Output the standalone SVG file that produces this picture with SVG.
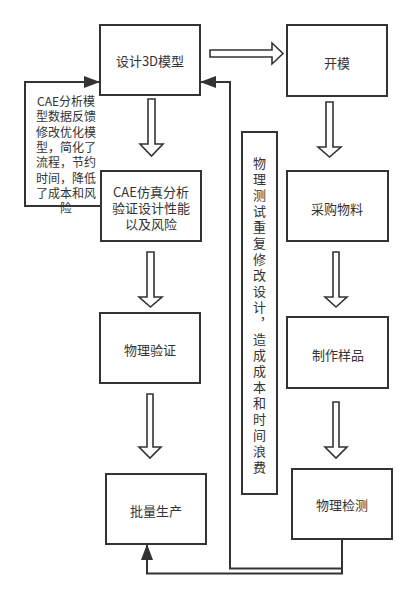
<svg xmlns="http://www.w3.org/2000/svg" width="417" height="599" viewBox="0 0 417 599">
<defs>
<style>
.box{fill:#fff;stroke:#333;stroke-width:2}
.t{font-family:"Noto Sans CJK SC","Liberation Sans",sans-serif;font-size:13px;fill:#333;text-anchor:middle;dominant-baseline:central}
.s{font-size:12px}
.v{font-family:"Noto Sans CJK SC","Liberation Sans",sans-serif;font-size:13px;fill:#333;writing-mode:vertical-rl;letter-spacing:3px}
.ha{fill:#fff;stroke:#333;stroke-width:1.6;stroke-linejoin:miter}
.ln{fill:none;stroke:#333;stroke-width:2}
</style>
<marker id="ah" viewBox="0 0 16 12" refX="16" refY="6" markerWidth="16" markerHeight="12" markerUnits="userSpaceOnUse" orient="auto">
<path d="M0,0 L16,6 L0,12 Z" fill="#333"/>
</marker>
</defs>
<rect width="417" height="599" fill="#fff"/>
<g id="connectors">
<path class="ln" d="M101,206 H25 V82 H100" marker-end="url(#ah)"/>
<path class="ln" d="M342,539 V568.5 H230 V82 H200" marker-end="url(#ah)"/>
<path class="ln" d="M342,539 V573.5 H147 V544" marker-end="url(#ah)"/>
<polygon class="ha" points="210,50 272,50 272,43 283,53.5 272,64 272,57 210,57"/>
<polygon class="ha" points="148,99 155,99 155,144 163,144 151.5,156 140,144 148,144"/>
<polygon class="ha" points="147,252 154,252 154,297 162,297 150.5,307 139,297 147,297"/>
<polygon class="ha" points="147,394 153,394 153,447 161,447 150,458 139,447 147,447"/>
<polygon class="ha" points="326,102 333,102 333,147 341,147 329.5,157 318,147 326,147"/>
<polygon class="ha" points="333,252 339,252 339,297 347,297 336,307 325,297 333,297"/>
<polygon class="ha" points="333,402 339,402 339,447 347,447 336,458 325,447 333,447"/>
</g>
<g id="label-cae-feedback">
<text class="t s" x="66"><tspan x="66" y="100">CAE分析模</tspan><tspan x="66" y="115.3">型数据反馈</tspan><tspan x="66" y="130.6">修改优化模</tspan><tspan x="66" y="145.9">型，简化了</tspan><tspan x="66" y="161.2">流程，节约</tspan><tspan x="66" y="176.5">时间，降低</tspan><tspan x="66" y="191.8">了成本和风</tspan><tspan x="66" y="207">险</tspan></text>
</g>
<g id="node-design3d">
<rect class="box" x="100" y="25" width="100" height="70"/>
<text class="t" x="150" y="60">设计3D模型</text>
</g>
<g id="node-kaimo">
<rect class="box" x="287" y="25" width="100" height="71"/>
<text class="t" x="337" y="62">开模</text>
</g>
<g id="node-cae">
<rect class="box" x="101" y="171" width="100" height="70"/>
<text class="t"><tspan x="151" y="191">CAE仿真分析</tspan><tspan x="151" y="207">验证设计性能</tspan><tspan x="151" y="223">以及风险</tspan></text>
</g>
<g id="node-caigou">
<rect class="box" x="287" y="171" width="101" height="70"/>
<text class="t" x="337" y="208">采购物料</text>
</g>
<g id="node-wuliyanzheng">
<rect class="box" x="100" y="313" width="100" height="70"/>
<text class="t" x="150" y="349">物理验证</text>
</g>
<g id="node-zhizuo">
<rect class="box" x="287" y="317" width="101" height="71"/>
<text class="t" x="338" y="354">制作样品</text>
</g>
<g id="node-piliang">
<rect class="box" x="106" y="474" width="100" height="70"/>
<text class="t" x="156" y="510">批量生产</text>
</g>
<g id="node-jiance">
<rect class="box" x="292" y="469" width="100" height="70"/>
<text class="t" x="342" y="504">物理检测</text>
</g>
<g id="node-note">
<rect class="box" x="242" y="132" width="35" height="362"/>
<text class="v" x="259.5" y="156.5">物理测试重复修改设计，造成成本和时间浪费</text>
</g>
</svg>
